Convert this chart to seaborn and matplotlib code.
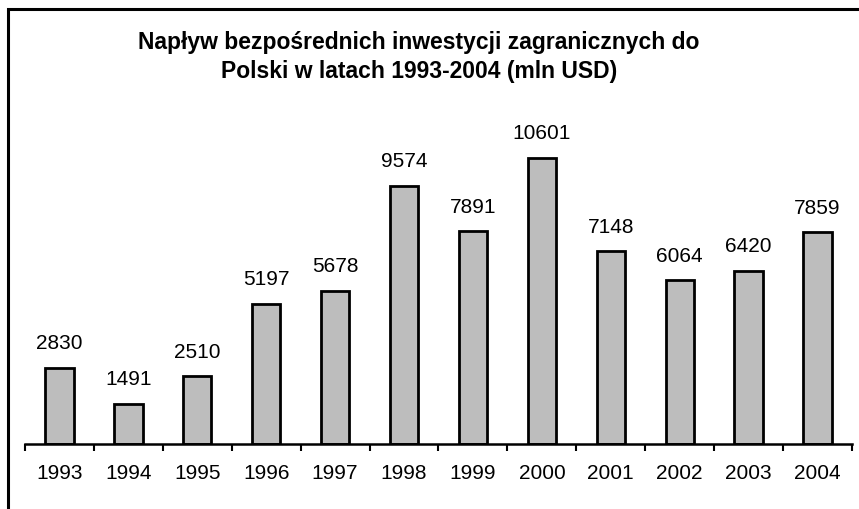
import numpy as np
import pandas as pd
import matplotlib
matplotlib.use('Agg')
from matplotlib import pyplot as plt
from matplotlib.patches import Rectangle
import seaborn as sns

# data
years = ['1993', '1994', '1995', '1996', '1997', '1998', '1999', '2000', '2001', '2002', '2003', '2004']
fdi = [2830, 1491, 2510, 5197, 5678, 9574, 7891, 10601, 7148, 6064, 6420, 7859]
title = 'Napływ bezpośrednich inwestycji zagranicznych do\nPolski w latach 1993-2004 (mln USD)'

df = pd.DataFrame({'rok': years, 'mln USD': fdi})

sns.set_style('white')
plt.rcParams['font.family'] = ['Liberation Sans', 'DejaVu Sans']
plt.rcParams['text.color'] = 'black'

W, H = 859, 510
fig = plt.figure(figsize=(W / 100, H / 100), dpi=100)
# plot area in pixels: x 25..852, y 121..445
ax = fig.add_axes([25 / W, 1 - 445 / H, 827 / W, 324 / H])

sns.barplot(data=df, x='rok', y='mln USD', ax=ax, color='#bdbdbd',
            edgecolor='black', linewidth=2, width=0.41, saturation=1)

ax.bar_label(ax.containers[0], fontsize=15, padding=11, color='black')

ax.set_ylim(0, 12000)
ax.set_xlim(-0.5, 11.5)
ax.set_xlabel('')
ax.set_ylabel('')
ax.set_yticks([])

# labels centred, tick marks between the categories
ax.tick_params(axis='x', which='major', length=0, labelsize=15, pad=14, labelcolor='black')
ax.set_xticks(np.arange(-0.5, 12, 1), minor=True)
ax.tick_params(axis='x', which='minor', bottom=True, length=5, width=1.5,
               direction='out', color='black')

for side in ['top', 'right', 'left']:
    ax.spines[side].set_visible(False)
ax.spines['bottom'].set_linewidth(1.8)
ax.spines['bottom'].set_color('black')

fig.text(419 / W, 1 - 57 / H, title, ha='center', va='center',
         fontsize=16.5, fontweight='bold', linespacing=1.35, color='black')

# outer frame of the chart (right and bottom edges are cut off)
fig.patches.append(Rectangle((8 / W, -0.1), 1.0, 1 - 10 / H + 0.1,
                             transform=fig.transFigure, fill=False,
                             edgecolor='black', linewidth=2.2))

fig.savefig('out.png', dpi=100)
